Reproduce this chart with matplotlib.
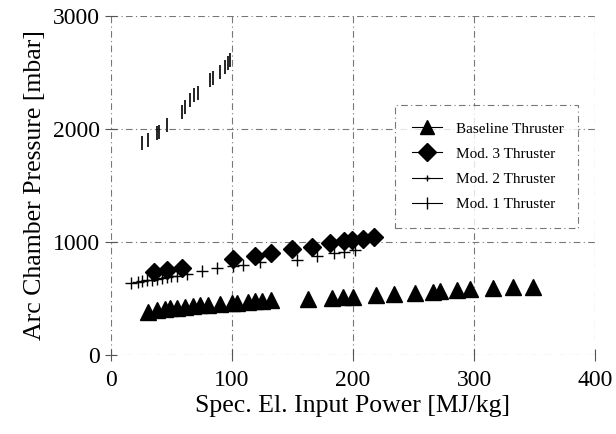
import matplotlib
matplotlib.use("Agg")
import matplotlib.pyplot as plt
from matplotlib.lines import Line2D

plt.rcParams['font.family'] = ['Liberation Serif', 'DejaVu Serif']

# Baseline thruster
base_x = [31, 38, 45, 49, 55, 61, 68, 74, 80, 90, 100, 104, 113, 119, 125, 132,
          163, 183, 192, 200, 219, 234, 251, 266, 272, 286, 297, 316, 332, 349]
base_y = [385, 400, 410, 415, 420, 428, 435, 440, 445, 452, 460, 463, 470, 475, 478, 485,
          495, 505, 512, 515, 530, 540, 550, 560, 565, 572, 580, 592, 600, 605]

# Mod. 3 thruster
mod3_x = [36, 46, 59, 101, 119, 132, 150, 166, 181, 193, 199, 208, 217]
mod3_y = [735, 750, 770, 850, 880, 905, 935, 960, 990, 1005, 1015, 1030, 1045]

# Mod. 2 thruster
mod2_x = [17, 22, 26, 30, 34, 38, 42, 46, 50, 55, 63, 75, 88, 101, 109,
          123, 154, 170, 184, 193, 202]
mod2_y = [640, 650, 655, 660, 668, 675, 680, 690, 695, 700, 720, 745, 770, 790, 800,
          820, 845, 880, 905, 915, 930]

# Mod. 1 thruster
mod1_x = [26, 31, 38, 40, 46, 59, 61, 65, 69, 72, 82, 84, 90, 94, 97, 98]
mod1_y = [1876, 1903, 1965, 1973, 2035, 2150, 2195, 2257, 2301, 2319, 2434, 2451,
          2504, 2549, 2584, 2610]

xticks = [0, 100, 200, 300, 400]
yticks = [0, 1000, 2000, 3000]

fig = plt.figure(figsize=(6.16, 4.34), dpi=100)
ax = fig.add_axes([0.180, 0.182, 0.786, 0.781])

grid_style = dict(color='#777777', lw=0.8, ls=(0, (6, 3, 1, 3)), zorder=0)
for xv in xticks:
    ax.axvline(xv, **grid_style)
for yv in yticks:
    ax.axhline(yv, **grid_style)

ax.plot(base_x, base_y, ls='none', marker='^', ms=11, color='black', zorder=3)
ax.plot(mod3_x, mod3_y, ls='none', marker='D', ms=9.5, color='black', zorder=3)
ax.plot(mod2_x, mod2_y, ls='none', marker='+', ms=8, mew=1.0, color='black', zorder=3)
ax.plot(mod1_x, mod1_y, ls='none', marker='|', ms=10, mew=1.2, color='black', zorder=3)

ax.set_xlim(0, 400)
ax.set_ylim(0, 3000)
ax.set_xticks(xticks)
ax.set_yticks(yticks)
for s in ax.spines.values():
    s.set_visible(False)
ax.tick_params(direction='inout', length=8, width=0.8, color='#555555',
               labelsize=17, pad=4)
ax.tick_params(axis='x', pad=7)

ax.set_xlabel('Spec. El. Input Power [MJ/kg]', fontsize=18.5, labelpad=3)
ax.set_ylabel('Arc Chamber Pressure [mbar]', fontsize=18.5, labelpad=5)

handles = [
    Line2D([], [], color='black', lw=0.8, marker='^', ms=10),
    Line2D([], [], color='black', lw=0.8, marker='D', ms=9),
    Line2D([], [], color='black', lw=0.8, marker='+', ms=5),
    Line2D([], [], color='black', lw=0.8, marker='|', ms=8),
]
labels = ['Baseline Thruster', 'Mod. 3 Thruster', 'Mod. 2 Thruster', 'Mod. 1 Thruster']
leg = ax.legend(handles, labels, loc='lower left', bbox_to_anchor=(0.587, 0.375, 0.378, 0.377),
                mode='expand', fontsize=11, frameon=True, fancybox=False,
                handlelength=2.0, handletextpad=0.9, labelspacing=0.75, borderpad=1.1,
                borderaxespad=0)
leg.get_frame().set_edgecolor('#555555')
leg.get_frame().set_linestyle((0, (6, 3, 1, 3)))
leg.get_frame().set_linewidth(0.8)

fig.savefig('out.png', dpi=100)
